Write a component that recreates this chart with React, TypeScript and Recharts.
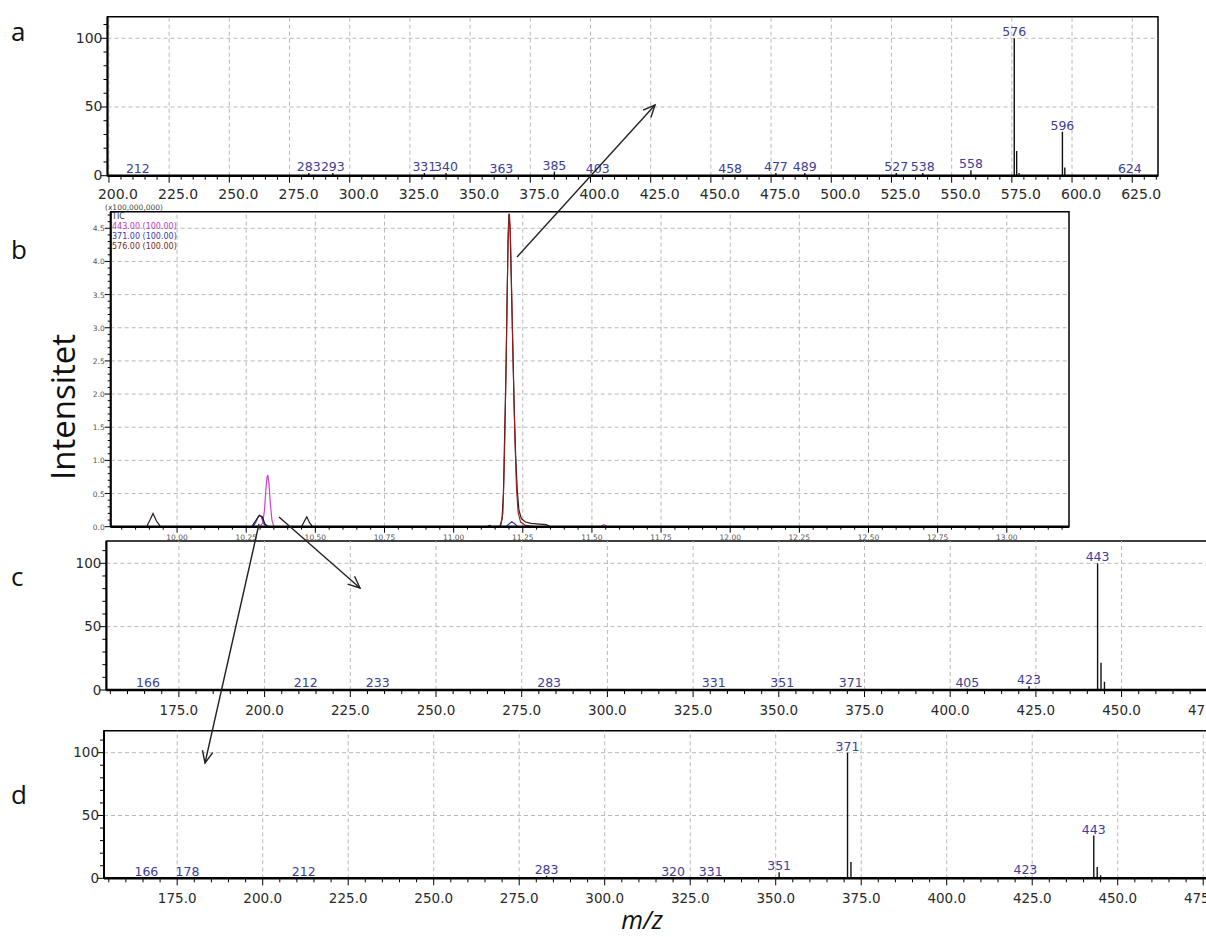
import React from "react";
import {
  ComposedChart,
  Line,
  ReferenceArea,
  ReferenceLine,
  Scatter,
  XAxis,
  YAxis,
} from "recharts";

// ---- mass spectra (m/z, relative intensity %, printed label) ----
const specAMz = [212, 283, 293, 331, 340, 363, 385, 403, 458, 477, 489, 527, 538, 558, 576, 577, 578, 596, 597, 624];
const specAInt = [0.5, 2, 2, 2, 2, 0.5, 3, 0.5, 0.3, 2, 2, 2, 2, 4, 100, 18, 2, 32, 6, 0.3];
const specALabel = ["212", "283", "293", "331", "340", "363", "385", "403", "458", "477", "489", "527", "538", "558", "576", "", "", "596", "", "624"];

const specCMz = [166, 212, 233, 283, 331, 351, 371, 405, 423, 443, 444, 445];
const specCInt = [0.5, 0.5, 0.5, 0.5, 0.5, 0.5, 1, 1, 3, 100, 21.5, 6.5];
const specCLabel = ["166", "212", "233", "283", "331", "351", "371", "405", "423", "443", "", ""];

const specDMz = [166, 178, 212, 283, 320, 331, 351, 371, 372, 423, 443, 444, 445];
const specDInt = [0.5, 0.5, 0.5, 2, 0.3, 0.3, 4.8, 100, 13, 1.5, 34, 9, 2.5];
const specDLabel = ["166", "178", "212", "283", "320", "331", "351", "371", "", "423", "443", "", ""];

const specATicks = [200, 225, 250, 275, 300, 325, 350, 375, 400, 425, 450, 475, 500, 525, 550, 575, 600, 625];
const specCDTicks = [175, 200, 225, 250, 275, 300, 325, 350, 375, 400, 425, 450, 475];
const specYTicks = [0, 50, 100];

// ---- chromatogram traces (retention time, intensity x1e8) ----
const ticTime = [9.76, 9.89, 9.902, 9.913, 9.925, 9.94, 10.27, 10.284, 10.297, 10.308, 10.318, 10.33, 10.45, 10.46, 10.469, 10.479, 10.49, 11.12, 11.13, 11.14, 11.168, 11.175, 11.18, 11.185, 11.19, 11.194, 11.197, 11.2, 11.204, 11.209, 11.214, 11.219, 11.224, 11.23, 11.236, 11.245, 11.26, 11.28, 11.31, 11.335, 11.35, 13.225];
const ticInt = [0, 0, 0.1, 0.2, 0.09, 0, 0, 0.09, 0.17, 0.15, 0.04, 0, 0, 0.08, 0.15, 0.06, 0, 0, 0.02, 0, 0.01, 0.12, 0.5, 1.5, 2.5, 3.6, 4.4, 4.72, 4.5, 3.6, 2.7, 1.8, 1.1, 0.55, 0.25, 0.12, 0.07, 0.05, 0.04, 0.03, 0, 0];

const ion576Time = [9.76, 11.17, 11.178, 11.183, 11.188, 11.192, 11.196, 11.199, 11.202, 11.206, 11.211, 11.216, 11.221, 11.227, 11.233, 11.242, 11.26, 11.3, 13.225];
const ion576Int = [0, 0, 0.2, 0.9, 2.0, 3.1, 4.1, 4.6, 4.72, 4.3, 3.3, 2.3, 1.4, 0.6, 0.22, 0.07, 0.02, 0, 0];

const ion443Time = [9.76, 10.3, 10.31, 10.316, 10.321, 10.325, 10.328, 10.332, 10.337, 10.343, 10.35, 11.53, 11.543, 11.556, 13.225];
const ion443Int = [0, 0, 0.06, 0.25, 0.55, 0.74, 0.78, 0.66, 0.36, 0.1, 0, 0, 0.03, 0, 0];

const ion371Time = [9.76, 10.275, 10.285, 10.292, 10.298, 10.305, 10.312, 10.32, 11.19, 11.2, 11.21, 11.222, 11.232, 13.225];
const ion371Int = [0, 0, 0.07, 0.14, 0.17, 0.15, 0.06, 0, 0, 0.04, 0.075, 0.04, 0, 0];

const chromXTicks = [10.0, 10.25, 10.5, 10.75, 11.0, 11.25, 11.5, 11.75, 12.0, 12.25, 12.5, 12.75, 13.0];
const chromYTicks = [0, 0.5, 1, 1.5, 2, 2.5, 3, 3.5, 4, 4.5];
const chromLegend = [
  { text: "TIC", color: "#333333" },
  { text: "443.00 (100.00)", color: "#c23ac2" },
  { text: "371.00 (100.00)", color: "#3a3ab8" },
  { text: "576.00 (100.00)", color: "#7a2a1a" },
];

const LABEL_BLUE = "#3d3d9a";
const GRID = "#b9b9b9";
const AXIS_FONT = "DejaVu Sans";

const zip = (xs: number[], ys: number[], kx: string) => xs.map((x, i) => ({ [kx]: x, v: ys[i] }));

function minorTicks(lo: number, hi: number, step: number) {
  const out: number[] = [];
  const start = Math.ceil(lo / step - 1e-9);
  for (let k = start; k * step <= hi + 1e-9; k++) out.push(+(k * step).toFixed(4));
  return out;
}

const near = (v: number, list: number[]) => list.some((m) => Math.abs(m - v) < 1e-6);

type SpecCfg = {
  top: number;
  width: number;
  height: number;
  plotLeft: number;
  plotTop: number;
  plotRight: number;
  plotBottom: number;
  xDomain: [number, number];
  yMax: number;
  xMajor: number[];
  mz: number[];
  inten: number[];
  labels: string[];
  labelDx: number;
  labelDy: number;
  tickFont: number;
};

function Spectrum({ cfg }: { cfg: SpecCfg }) {
  const peaks = cfg.mz.map((m, i) => ({ mz: m, v: cfg.inten[i], label: cfg.labels[i] }));
  const labeled = peaks.filter((p) => p.label);
  const xTicks = minorTicks(cfg.xDomain[0], cfg.xDomain[1], 5);
  const yTicks = minorTicks(0, cfg.yMax, 10);

  const xTick = (p: any) => {
    const major = near(p.payload.value, cfg.xMajor);
    return (
      <g>
        <line x1={p.x} y1={p.y} x2={p.x} y2={p.y + (major ? 7 : 4)} stroke="#000" strokeWidth={1} />
        {major && (
          <text x={p.x + cfg.labelDx} y={p.y + cfg.labelDy} textAnchor="middle" fontSize={cfg.tickFont} fontFamily={AXIS_FONT} fill="#2a2a2a">
            {p.payload.value.toFixed(1)}
          </text>
        )}
      </g>
    );
  };

  const yTick = (p: any) => {
    const major = near(p.payload.value, specYTicks);
    return (
      <g>
        <line x1={p.x - (major ? 7 : 4)} y1={p.y} x2={p.x} y2={p.y} stroke="#000" strokeWidth={1} />
        {major && (
          <text x={p.x - 5} y={p.y + 4.5} textAnchor="end" fontSize={cfg.tickFont} fontFamily={AXIS_FONT} fill="#2a2a2a">
            {p.payload.value}
          </text>
        )}
      </g>
    );
  };

  return (
    <div style={{ position: "absolute", left: 0, top: cfg.top }}>
      <ComposedChart
        width={cfg.width}
        height={cfg.height}
        margin={{ top: cfg.plotTop - cfg.top, right: cfg.width - cfg.plotRight, bottom: 0, left: 0 }}
      >
        <XAxis
          type="number"
          dataKey="mz"
          domain={cfg.xDomain}
          allowDataOverflow
          ticks={xTicks}
          interval={0}
          tickSize={0}
          tickMargin={0}
          tick={xTick}
          height={cfg.top + cfg.height - cfg.plotBottom}
          axisLine={{ stroke: "#000", strokeWidth: 2.5 }}
        />
        <YAxis
          type="number"
          dataKey="v"
          domain={[0, cfg.yMax]}
          allowDataOverflow
          ticks={yTicks}
          interval={0}
          tickSize={0}
          tickMargin={0}
          tick={yTick}
          width={cfg.plotLeft}
          axisLine={{ stroke: "#000", strokeWidth: 2 }}
        />
        {cfg.xMajor.map((t) => (
          <ReferenceLine key={"gx" + t} x={t} stroke={GRID} strokeDasharray="4 3" />
        ))}
        {specYTicks.slice(1).map((t) => (
          <ReferenceLine key={"gy" + t} y={t} stroke={GRID} strokeDasharray="4 3" />
        ))}
        <ReferenceArea x1={cfg.xDomain[0]} x2={cfg.xDomain[1]} y1={0} y2={cfg.yMax} fill="none" stroke="#000" strokeWidth={1.5} />
        {peaks.map((p) => (
          <ReferenceLine
            key={"pk" + p.mz}
            segment={[{ x: p.mz, y: 0 }, { x: p.mz, y: p.v }]}
            stroke="#111"
            strokeWidth={1.4}
          />
        ))}
        <Scatter
          data={labeled}
          dataKey="v"
          isAnimationActive={false}
          shape={(s: any) => (
            <text x={s.cx} y={s.cy - 2} textAnchor="middle" fontSize={12.5} fontFamily={AXIS_FONT} fill={LABEL_BLUE}>
              {s.payload.label}
            </text>
          )}
        />
      </ComposedChart>
    </div>
  );
}

const panelA: SpecCfg = {
  top: 0, width: 1206, height: 215,
  plotLeft: 107.5, plotTop: 16.7, plotRight: 1158, plotBottom: 175.7,
  xDomain: [199.4, 635.7], yMax: 115.7, xMajor: specATicks,
  mz: specAMz, inten: specAInt, labels: specALabel, labelDx: 9, labelDy: 23, tickFont: 14,
};
const panelC: SpecCfg = {
  top: 530, width: 1260, height: 200,
  plotLeft: 106.4, plotTop: 541, plotRight: 1240.2, plotBottom: 690,
  xDomain: [153.85, 484.6], yMax: 117.6, xMajor: specCDTicks,
  mz: specCMz, inten: specCInt, labels: specCLabel, labelDx: 0, labelDy: 25, tickFont: 13.5,
};
const panelD: SpecCfg = {
  top: 722, width: 1260, height: 200,
  plotLeft: 104, plotTop: 730.7, plotRight: 1234, plotBottom: 878.3,
  xDomain: [153.6, 484], yMax: 117.5, xMajor: specCDTicks,
  mz: specDMz, inten: specDInt, labels: specDLabel, labelDx: 0, labelDy: 25, tickFont: 13.5,
};

function Chromatogram() {
  const top = 200;
  const height = 345;
  const plot = { left: 110.7, top: 211.7, right: 1069, bottom: 526.7 };
  const xDomain: [number, number] = [9.76, 13.225];
  const yMax = 4.75;
  const xTicks = minorTicks(xDomain[0], xDomain[1], 0.05);
  const yTicks = minorTicks(0, yMax, 0.1);

  const xTick = (p: any) => {
    const major = near(p.payload.value, chromXTicks);
    return (
      <g>
        <line x1={p.x} y1={p.y} x2={p.x} y2={p.y + (major ? 6 : 3)} stroke="#000" strokeWidth={1} />
        {major && (
          <text x={p.x} y={p.y + 13} textAnchor="middle" fontSize={7.5} fontFamily={AXIS_FONT} fill="#555">
            {p.payload.value.toFixed(2)}
          </text>
        )}
      </g>
    );
  };
  const yTick = (p: any) => {
    const major = near(p.payload.value, chromYTicks);
    return (
      <g>
        <line x1={p.x - (major ? 6 : 3)} y1={p.y} x2={p.x} y2={p.y} stroke="#000" strokeWidth={1} />
        {major && (
          <text x={p.x - 6} y={p.y + 3} textAnchor="end" fontSize={7.5} fontFamily={AXIS_FONT} fill="#555">
            {p.payload.value.toFixed(1)}
          </text>
        )}
      </g>
    );
  };

  return (
    <div style={{ position: "absolute", left: 0, top }}>
      <ComposedChart
        width={1206}
        height={height}
        margin={{ top: plot.top - top, right: 1206 - plot.right, bottom: 0, left: 0 }}
      >
        <XAxis
          type="number"
          dataKey="t"
          domain={xDomain}
          allowDataOverflow
          ticks={xTicks}
          interval={0}
          tickSize={0}
          tickMargin={0}
          tick={xTick}
          height={top + height - plot.bottom}
          axisLine={{ stroke: "#000", strokeWidth: 2.5 }}
        />
        <YAxis
          type="number"
          domain={[0, yMax]}
          allowDataOverflow
          ticks={yTicks}
          interval={0}
          tickSize={0}
          tickMargin={0}
          tick={yTick}
          width={plot.left}
          axisLine={{ stroke: "#000", strokeWidth: 2 }}
        />
        {chromXTicks.map((t) => (
          <ReferenceLine key={"gx" + t} x={t} stroke={GRID} strokeDasharray="4 3" />
        ))}
        {chromYTicks.slice(1).map((t) => (
          <ReferenceLine key={"gy" + t} y={t} stroke={GRID} strokeDasharray="4 3" />
        ))}
        <ReferenceArea x1={xDomain[0]} x2={xDomain[1]} y1={0} y2={yMax} fill="none" stroke="#000" strokeWidth={1.5} />
        <Line data={zip(ion371Time, ion371Int, "t")} dataKey="v" type="linear" stroke="#3a3ac8" strokeWidth={1.2} dot={false} isAnimationActive={false} />
        <Line data={zip(ion443Time, ion443Int, "t")} dataKey="v" type="linear" stroke="#d040d0" strokeWidth={1.2} dot={false} isAnimationActive={false} />
        <Line data={zip(ticTime, ticInt, "t")} dataKey="v" type="linear" stroke="#2a1a1a" strokeWidth={1.2} dot={false} isAnimationActive={false} />
        <Line data={zip(ion576Time, ion576Int, "t")} dataKey="v" type="linear" stroke="#9a1c1c" strokeWidth={1.1} dot={false} isAnimationActive={false} />
      </ComposedChart>
    </div>
  );
}

function Arrow({ x1, y1, x2, y2 }: { x1: number; y1: number; x2: number; y2: number }) {
  const a = Math.atan2(y2 - y1, x2 - x1);
  const len = 13;
  const spread = 0.42;
  const h1 = [x2 - len * Math.cos(a - spread), y2 - len * Math.sin(a - spread)];
  const h2 = [x2 - len * Math.cos(a + spread), y2 - len * Math.sin(a + spread)];
  return (
    <g stroke="#222" strokeWidth={1.4} fill="none">
      <line x1={x1} y1={y1} x2={x2} y2={y2} />
      <polyline points={`${h1[0]},${h1[1]} ${x2},${y2} ${h2[0]},${h2[1]}`} />
    </g>
  );
}

export default function App() {
  return (
    <div
      style={{
        position: "absolute",
        left: 0,
        top: 0,
        width: 1206,
        height: 937,
        overflow: "hidden",
        background: "#fff",
      }}
    >
      <Spectrum cfg={panelA} />
      <Chromatogram />
      <Spectrum cfg={panelC} />
      <Spectrum cfg={panelD} />

      <svg width={1206} height={937} style={{ position: "absolute", left: 0, top: 0, pointerEvents: "none" }}>
        {/* panel letters */}
        <g fontFamily="Open Sans" fontSize={26} fill="#111">
          <text x={11} y={41}>a</text>
          <text x={11} y={259}>b</text>
          <text x={11} y={586}>c</text>
          <text x={11} y={804}>d</text>
        </g>
        <text
          x={0}
          y={0}
          transform="translate(75,407) rotate(-90)"
          textAnchor="middle"
          fontFamily="Open Sans"
          fontSize={33}
          fill="#111"
        >
          Intensitet
        </text>
        <text x={642} y={929} textAnchor="middle" fontFamily="Open Sans" fontStyle="italic" fontSize={25} fill="#111">
          m/z
        </text>

        {/* chromatogram scale note and trace legend */}
        <text x={105} y={209.5} fontFamily={AXIS_FONT} fontSize={7.5} fill="#444">(x100,000,000)</text>
        {chromLegend.map((l, i) => (
          <text key={l.text} x={112} y={219 + i * 10} fontFamily={AXIS_FONT} fontSize={8} fill={l.color}>
            {l.text}
          </text>
        ))}

        {/* peak-to-spectrum arrows */}
        <Arrow x1={517} y1={257} x2={655} y2={105} />
        <Arrow x1={279} y1={517} x2={360} y2={588} />
        <Arrow x1={259} y1={524} x2={205} y2={763} />
      </svg>
    </div>
  );
}
